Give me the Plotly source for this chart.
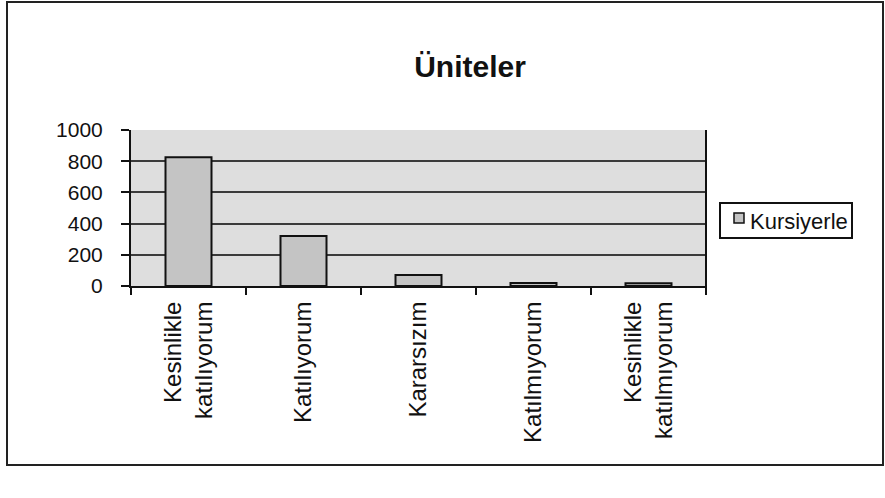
import plotly.graph_objects as go

categories = ["Kesinlikle<br>katılıyorum", "Katılıyorum", "Kararsızım", "Katılmıyorum", "Kesinlikle<br>katılmıyorum"]
values = [825, 320, 70, 20, 18]
series_name = "Kursiyerle"
y_ticks = [0, 200, 400, 600, 800, 1000]

W, H = 885, 498
L, R, T, B = 131, 179, 130, 212
pw, ph = W - L - R, H - T - B

def px_x(p):
    return (p - L) / pw

def px_y(p):
    return (H - B - p) / ph

bar_fill = "#c4c4c4"

fig = go.Figure()
fig.add_trace(go.Bar(
    x=categories, y=values, name=series_name, width=0.4,
    marker=dict(color=bar_fill, line=dict(color="#111111", width=2)),
    showlegend=False,
))

fig.update_layout(
    width=W, height=H,
    margin=dict(l=L, r=R, t=T, b=B, autoexpand=False),
    paper_bgcolor="white",
    plot_bgcolor="#dedede",
    font=dict(family="Liberation Sans, Arial, sans-serif", size=21, color="#111111"),
    title=dict(text="<b>Üniteler</b>", font=dict(size=30, color="#111111"),
               x=px_x(470), xref="paper", xanchor="center",
               y=1 - 66 / H, yref="container", yanchor="middle"),
    showlegend=False,
    bargap=0.6,
)

fig.update_xaxes(
    type="category", tickangle=-90, showline=True, linecolor="#111111", linewidth=2,
    mirror=False, ticks="outside", tickson="boundaries", ticklen=7, tickwidth=1.5,
    tickcolor="#111111", showgrid=False, tickfont=dict(size=24),
    range=[-0.5, 4.5], ticklabelstandoff=4,
)
fig.update_yaxes(
    range=[0, 1000], tickvals=y_ticks, ticktext=[str(v) for v in y_ticks],
    showline=True, linecolor="#111111", linewidth=2, ticks="outside", ticklen=8,
    tickwidth=1.5, tickcolor="#111111", showgrid=True, gridcolor="#3a3a3a",
    gridwidth=1.5, zeroline=False, tickfont=dict(size=21), ticklabelstandoff=14,
)

# right border of plot area
fig.add_shape(type="line", xref="paper", yref="paper", x0=1, x1=1, y0=px_y(293), y1=1,
              line=dict(color="#111111", width=2))
# outer chart frame
fig.add_shape(type="rect", xref="paper", yref="paper",
              x0=px_x(7), x1=px_x(883), y0=px_y(465), y1=px_y(2),
              line=dict(color="#222222", width=2), fillcolor="rgba(0,0,0,0)", layer="below")

# legend (Excel style): box, small square symbol, label
fig.add_shape(type="rect", xref="paper", yref="paper",
              x0=px_x(720), x1=px_x(852), y0=px_y(238), y1=px_y(203),
              line=dict(color="#111111", width=2), fillcolor="white")
fig.add_shape(type="rect", xref="paper", yref="paper",
              x0=px_x(734), x1=px_x(744), y0=px_y(223), y1=px_y(213),
              line=dict(color="#111111", width=1.5), fillcolor=bar_fill)
fig.add_annotation(text=series_name, xref="paper", yref="paper",
                   x=px_x(748), y=px_y(221), xanchor="left", yanchor="middle",
                   showarrow=False, font=dict(size=22, color="#111111"))

fig.write_html("out.html", post_script="document.body.style.margin='0';",
               config={"displayModeBar": False})
